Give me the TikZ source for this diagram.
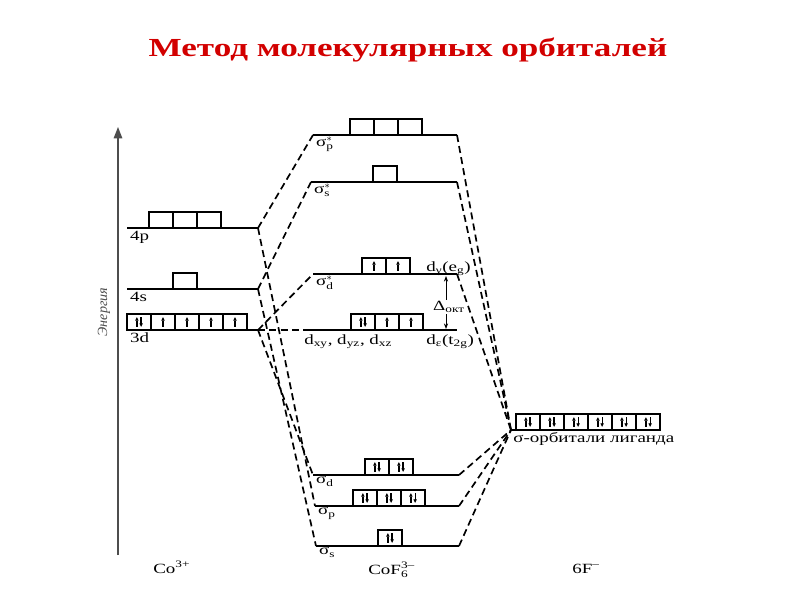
\documentclass[tikz,border=0pt]{standalone}
\usepackage{fontspec}
\usepackage{amsmath}
\usepackage{tikz}
\setmainfont[FakeStretch=1.35]{Liberation Serif}
\newfontfamily\axisfont{Liberation Serif}
\usetikzlibrary{arrows.meta,positioning}
\definecolor{ttlred}{RGB}{210,0,0}
\definecolor{axgray}{HTML}{4D4D4D}

\begin{document}
\begin{tikzpicture}[
    x=0.025cm, y=-0.025cm,
    orb/.style={rectangle,draw,line width=0.9pt,minimum width=0.6cm,
                minimum height=0.4cm,inner sep=0pt,outer sep=0pt},
    espin/.style={line width=0.9pt,-{Triangle[length=2.6pt,width=2.4pt]}},
    spinup/.style={orb,path picture={
        \draw[espin] ([yshift=-3.5pt]path picture bounding box.center)
                  -- ([yshift=3.5pt]path picture bounding box.center);}},
    spinpair/.style={orb,path picture={
        \draw[espin] ([xshift=-1.5pt,yshift=-3.5pt]path picture bounding box.center)
                  -- ([xshift=-1.5pt,yshift=3.5pt]path picture bounding box.center);
        \draw[espin] ([xshift=1.5pt,yshift=3.5pt]path picture bounding box.center)
                  -- ([xshift=1.5pt,yshift=-3.5pt]path picture bounding box.center);}},
    lvl/.style={line width=1.1pt},
    conn/.style={line width=1.2pt,dash pattern=on 5pt off 3pt},
    lab/.style={font=\fontsize{10}{12}\selectfont,inner sep=0pt},
    arr/.style={<->,>={Stealth[length=4pt,width=3pt]},line width=0.6pt}
  ]
    \useasboundingbox (0,0) rectangle (800,600);

    \node[font=\fontsize{18.5}{22}\selectfont\bfseries,text=ttlred]
      (title) at (408,50) {Метод молекулярных орбиталей};

    % energy axis
    \coordinate (axb) at (118,555);
    \coordinate (axt) at (118,127);
    \draw[axgray,line width=1pt,-{Triangle[width=6pt,length=8pt]}] (axb) -- (axt);
    \node[font=\axisfont\itshape\fontsize{10}{12}\selectfont,text=axgray,
          rotate=90] (energy) at (104,312) {Энергия};

    % Co3+ levels
    \coordinate (p4l) at (127,228); \coordinate (p4r) at (258,228);
    \coordinate (s4l) at (127,289); \coordinate (s4r) at (258,289);
    \coordinate (d3l) at (127,330); \coordinate (d3r) at (258,330);

    \node[orb,anchor=south west] (p4a) at (149,228) {};
    \node[orb,right=0pt of p4a] (p4b) {};
    \node[orb,right=0pt of p4b] (p4c) {};
    \node[orb,anchor=south west] (s4a) at (173,289) {};
    \node[spinpair,anchor=south west] (d3a) at (127,330) {};
    \node[spinup,right=0pt of d3a] (d3b) {};
    \node[spinup,right=0pt of d3b] (d3c) {};
    \node[spinup,right=0pt of d3c] (d3d) {};
    \node[spinup,right=0pt of d3d] (d3e) {};

    \draw[lvl] (p4l) -- (p4r);
    \draw[lvl] (s4l) -- (s4r);
    \draw[lvl] (d3l) -- (d3r);
    \node[lab,below right=2pt and 2pt of p4l] (p4lab) {4p};
    \node[lab,below right=2pt and 2pt of s4l] (s4lab) {4s};
    \node[lab,below right=2pt and 2pt of d3l] (d3lab) {3d};

    % CoF6 3- levels
    \coordinate (spsl) at (313,135); \coordinate (spsr) at (457,135);
    \coordinate (sssl) at (311,182); \coordinate (sssr) at (457,182);
    \coordinate (sdsl) at (313,274); \coordinate (sdsr) at (457,274);
    \coordinate (tl) at (307,330);   \coordinate (tr) at (457,330);
    \coordinate (sdl) at (313,475);  \coordinate (sdr) at (459,475);
    \coordinate (spl) at (315,506);  \coordinate (spr) at (459,506);
    \coordinate (ssl) at (316,546);  \coordinate (ssr) at (459,546);

    \node[orb,anchor=south west] (spsa) at (350,135) {};
    \node[orb,right=0pt of spsa] (spsb) {};
    \node[orb,right=0pt of spsb] (spsc) {};
    \node[orb,anchor=south west] (sssa) at (373,182) {};
    \node[spinup,anchor=south west] (sdsa) at (362,274) {};
    \node[spinup,right=0pt of sdsa] (sdsb) {};
    \node[spinpair,anchor=south west] (ta) at (351,330) {};
    \node[spinup,right=0pt of ta] (tb) {};
    \node[spinup,right=0pt of tb] (tc) {};
    \node[spinpair,anchor=south west] (sda) at (365,475) {};
    \node[spinpair,right=0pt of sda] (sdb) {};
    \node[spinpair,anchor=south west] (spa) at (353,506) {};
    \node[spinpair,right=0pt of spa] (spb) {};
    \node[spinpair,right=0pt of spb] (spc) {};
    \node[spinpair,anchor=south west] (ssa) at (378,546) {};

    \draw[lvl] (spsl) -- (spsr);
    \draw[lvl] (sssl) -- (sssr);
    \draw[lvl] (sdsl) -- (sdsr);
    \draw[lvl] (tl) -- (tr);
    \draw[lvl] (sdl) -- (sdr);
    \draw[lvl] (spl) -- (spr);
    \draw[lvl] (ssl) -- (ssr);

    \node[lab,below right=1pt and 2pt of spsl] (spslab) {$\text{σ}_\text{p}^{*}$};
    \node[lab,below right=1pt and 2pt of sssl] (ssslab) {$\text{σ}_\text{s}^{*}$};
    \node[lab,below right=1pt and 2pt of sdsl] (sdslab) {$\text{σ}_\text{d}^{*}$};
    \node[lab,below right=1pt and 2pt of sdl] (sdlab) {$\text{σ}_\text{d}$};
    \node[lab,below right=1pt and 2pt of spl] (splab) {$\text{σ}_\text{p}$};
    \node[lab,below right=1pt and 2pt of ssl] (sslab) {$\text{σ}_\text{s}$};
    \node[lab,anchor=base west] (tlab) at (304,344)
      {d$_\text{xy}$, d$_\text{yz}$, d$_\text{xz}$};
    \node[lab,anchor=base west] (eglab) at (426,271) {d$_\text{γ}$(e$_\text{g}$)};
    \node[lab,anchor=base west] (t2glab) at (426,344) {d$_\text{ε}$(t$_\text{2g}$)};

    % splitting
    \coordinate (dtop) at (446,276);
    \coordinate (dbot) at (446,329);
    \draw[arr] (dtop) -- (dbot);
    \node[lab,fill=white,inner sep=1pt] (delta) at (449,307) {$\text{Δ}_\text{окт}$};

    % ligand orbitals
    \coordinate (ligl) at (511,430); \coordinate (ligr) at (660,430);
    \node[spinpair,anchor=south west] (lg1) at (516,430) {};
    \foreach \i [evaluate=\i as \j using int(\i-1)] in {2,...,6}
      \node[spinpair,right=0pt of lg\j] (lg\i) {};
    \draw[lvl] (ligl) -- (ligr);
    \node[lab,anchor=base west] (liglab) at (513,442) {σ-орбитали лиганда};

    % correlation lines
    \draw[conn] (p4r) -- (spsl);
    \draw[conn] (p4r) -- (spl);
    \draw[conn] (s4r) -- (sssl);
    \draw[conn] (s4r) -- (ssl);
    \draw[conn] (d3r) -- (sdsl);
    \draw[conn] (d3r) -- (tl);
    \draw[conn] (d3r) -- (sdl);
    \draw[conn] (spsr) -- (ligl);
    \draw[conn] (sssr) -- (ligl);
    \draw[conn] (sdsr) -- (ligl);
    \draw[conn] (sdr) -- (ligl);
    \draw[conn] (spr) -- (ligl);
    \draw[conn] (ssr) -- (ligl);

    % species
    \node[lab,anchor=base west] (co) at (153,573) {Co$^\text{3+}$};
    \node[lab,anchor=base west] (cof) at (368,574) {CoF$_\text{6}^\text{3–}$};
    \node[lab,anchor=base west] (fl) at (572,573) {6F$^\text{–}$};
  \end{tikzpicture}
\end{document}
